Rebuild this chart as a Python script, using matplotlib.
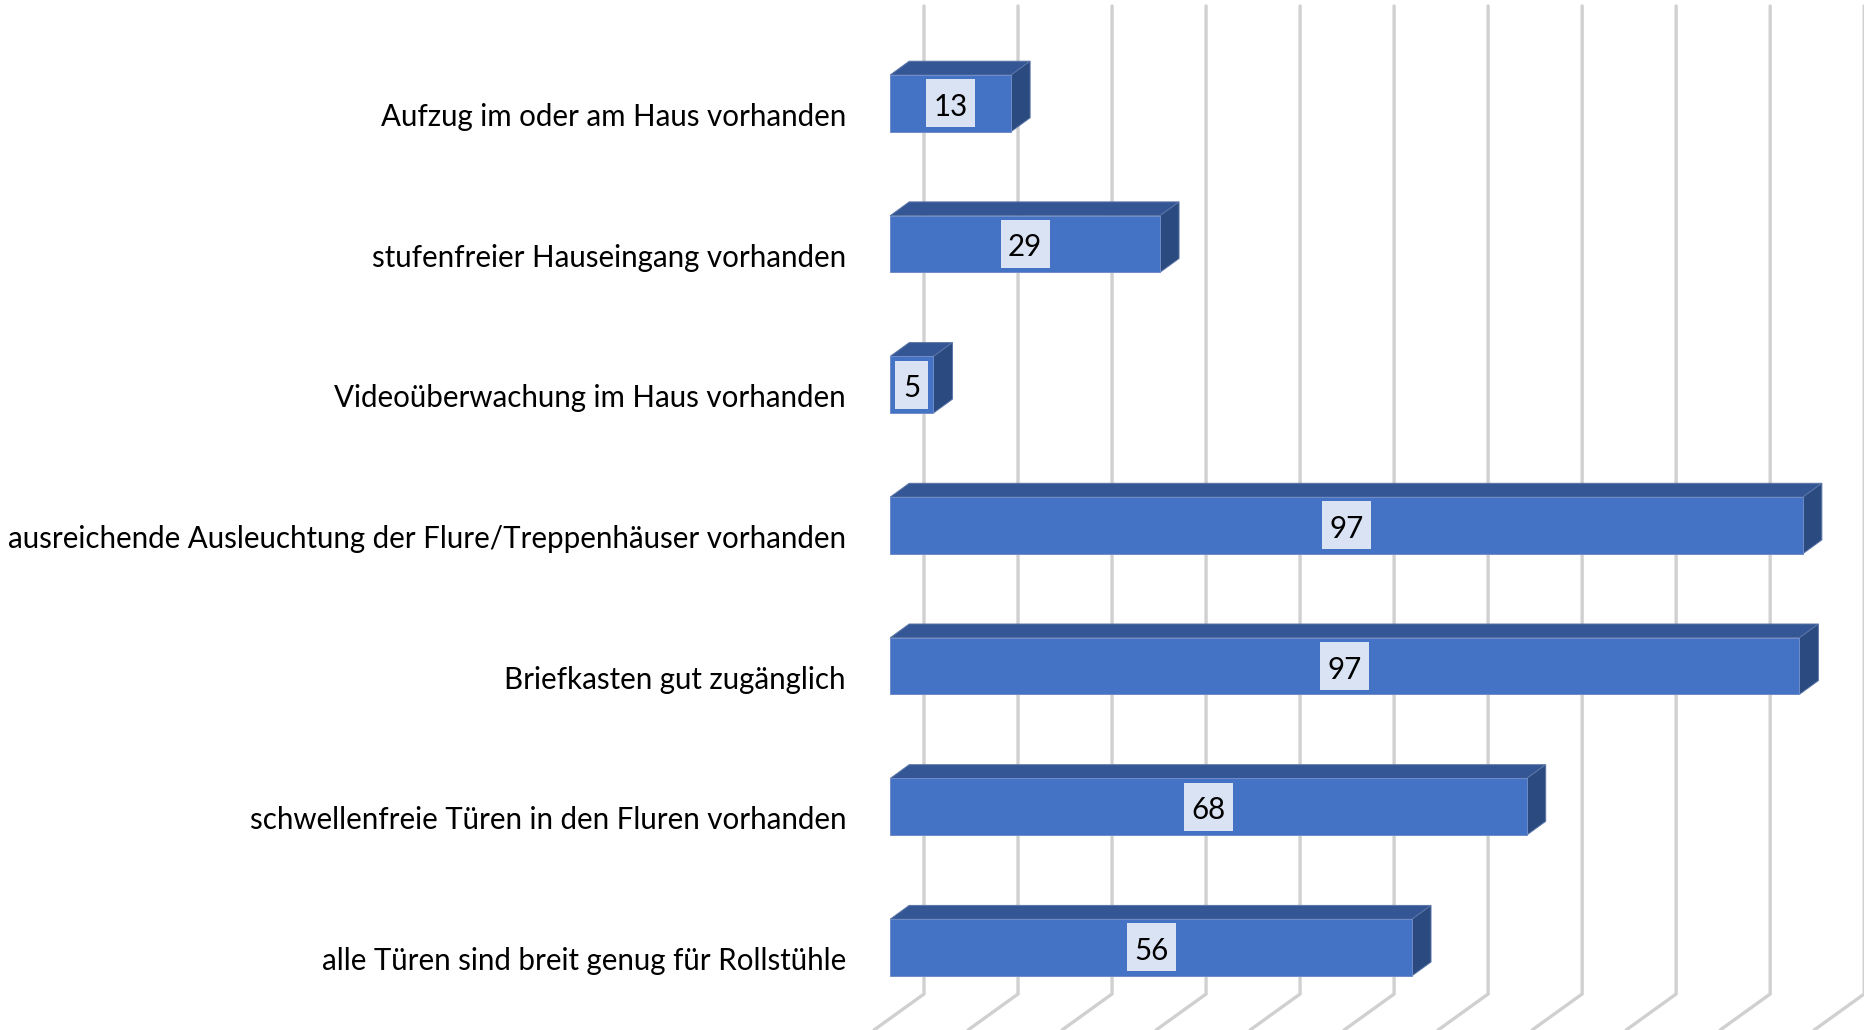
import matplotlib
matplotlib.use("Agg")
import matplotlib.pyplot as plt
from matplotlib.patches import Polygon, Rectangle

categories = [
    "Aufzug im oder am Haus vorhanden",
    "stufenfreier Hauseingang vorhanden",
    "Videoüberwachung im Haus vorhanden",
    "ausreichende Ausleuchtung der Flure/Treppenhäuser vorhanden",
    "Briefkasten gut zugänglich",
    "schwellenfreie Türen in den Fluren vorhanden",
    "alle Türen sind breit genug für Rollstühle",
]
values = [12.86, 28.7, 4.6, 97.07, 96.7, 67.7, 55.5]
grid_values = list(range(0, 101, 10))

W, H = 1864, 1030
AX_LEFT = 860
X0_PX, PX_PER_UNIT = 890.2, 9.402
Y0_PX, PX_PER_CAT = 103.3, 140.7
px_x = lambda p: p / PX_PER_UNIT          # pixel length -> value units
px_y = lambda p: p / PX_PER_CAT           # pixel length -> category units

fig = plt.figure(figsize=(W / 100, H / 100), dpi=100, facecolor="white")
ax = fig.add_axes([AX_LEFT / W, 0, 1 - AX_LEFT / W, 1])
ax.set_xlim((AX_LEFT - X0_PX) / PX_PER_UNIT, (W - X0_PX) / PX_PER_UNIT)
ax.set_ylim((H - Y0_PX) / PX_PER_CAT, -Y0_PX / PX_PER_CAT)
for s in ax.spines.values():
    s.set_visible(False)
ax.set_xticks([])

# category labels sit a little below the bar centre
ax.set_yticks([i + px_y(11) for i in range(len(categories))], categories,
              fontfamily="Lato", fontsize=21.25, color="black")
ax.tick_params(axis="y", length=0, pad=14 * 0.72)

# back-wall gridlines with oblique floor segments
wall_off = px_x(33.8)
top_y = px_y(6 - Y0_PX)
base_y = px_y(994 - Y0_PX)
foot_dx, foot_dy = px_x(-50), px_y(36)
for g in grid_values:
    gx = g + wall_off
    ax.plot([gx, gx, gx + foot_dx], [top_y, base_y, base_y + foot_dy],
            color="#D0D0D0", lw=2.4, solid_capstyle="round",
            solid_joinstyle="miter", zorder=1, clip_on=False)

# 3-D looking bars
bar_h = px_y(56.6)
dx, dy = px_x(19), px_y(13.8)
edge = "#6F8CC8"
for i, v in enumerate(values):
    t, b = i - bar_h / 2, i + bar_h / 2
    ax.add_patch(Polygon([(0, t), (dx, t - dy), (v + dx, t - dy), (v, t)],
                         facecolor="#345694", edgecolor="#5A74A6", lw=0.7, zorder=3))
    ax.add_patch(Polygon([(v, t), (v + dx, t - dy), (v + dx, b - dy), (v, b)],
                         facecolor="#2B4A80", edgecolor="#5A74A6", lw=0.7, zorder=3))
    ax.barh(i, v, height=bar_h, left=0, color="#4472C4", edgecolor=edge, lw=0.7, zorder=4)
    box_w = px_x(49 if v >= 10 else 33)
    box_h = px_y(48)
    ax.add_patch(Rectangle((v / 2 - box_w / 2, i - box_h / 2), box_w, box_h,
                           facecolor="#DAE3F3", edgecolor="none", zorder=5))
    ax.text(v / 2, i + px_y(1), f"{round(v)}", ha="center", va="center_baseline",
            fontfamily="Lato", fontsize=21.25, color="black", zorder=6)

fig.savefig("out.png", dpi=100, facecolor="white")
